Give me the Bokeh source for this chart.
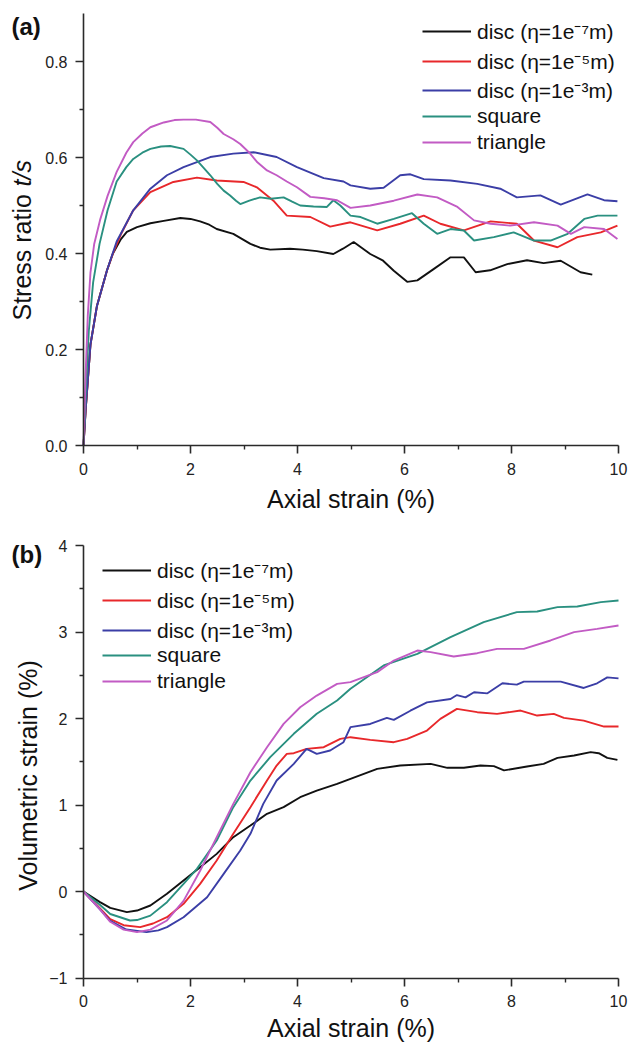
import math
from bokeh.plotting import figure
from bokeh.models import Range1d, FixedTicker, Legend, LegendItem, Label, PrintfTickFormatter
from bokeh.layouts import column
from bokeh.embed import file_html
from bokeh.resources import INLINE

FONT = "Liberation Sans"

series_names = ["disc (η=1e⁻⁷m)", "disc (η=1e⁻⁵m)", "disc (η=1e⁻³m)", "square", "triangle"]
series_colors = ["#111111", "#e8282b", "#3b3ea6", "#2a9080", "#c25bc4"]

x_ticks = [0, 2, 4, 6, 8, 10]
x_minor = [1, 3, 5, 7, 9]
ya_ticks = [0.0, 0.2, 0.4, 0.6, 0.8]
ya_minor = [0.1, 0.3, 0.5, 0.7]
yb_ticks = [-1, 0, 1, 2, 3, 4]
yb_minor = [-0.5, 0.5, 1.5, 2.5, 3.5]

# ---------------- panel (a): stress ratio ----------------
a_d7_x = [0, 0.04, 0.13, 0.25, 0.44, 0.55, 0.7, 0.81, 1.0, 1.25, 1.5, 1.81, 2.0, 2.18, 2.35, 2.49, 2.8, 3.12, 3.3, 3.49, 3.86, 4.1, 4.36, 4.67, 4.85, 5.05, 5.36, 5.6, 5.8, 6.05, 6.24, 6.55, 6.86, 7.11, 7.33, 7.6, 7.92, 8.29, 8.6, 8.92, 9.29, 9.51]
a_d7_y = [0, 0.073, 0.21, 0.29, 0.365, 0.4, 0.43, 0.445, 0.455, 0.463, 0.468, 0.474, 0.472, 0.467, 0.46, 0.451, 0.441, 0.42, 0.412, 0.408, 0.41, 0.408, 0.405, 0.399, 0.41, 0.424, 0.399, 0.385, 0.364, 0.341, 0.344, 0.368, 0.392, 0.392, 0.361, 0.365, 0.378, 0.386, 0.38, 0.385, 0.361, 0.356]

a_d5_x = [0, 0.04, 0.13, 0.25, 0.44, 0.55, 0.7, 0.93, 1.25, 1.68, 2.12, 2.49, 2.99, 3.24, 3.55, 3.8, 4.24, 4.61, 4.99, 5.49, 5.92, 6.36, 6.67, 7.11, 7.61, 8.1, 8.42, 8.86, 9.23, 9.67, 9.98]
a_d5_y = [0, 0.073, 0.21, 0.29, 0.365, 0.4, 0.44, 0.49, 0.528, 0.549, 0.558, 0.552, 0.549, 0.538, 0.51, 0.479, 0.476, 0.456, 0.465, 0.448, 0.462, 0.479, 0.462, 0.448, 0.467, 0.462, 0.427, 0.413, 0.434, 0.444, 0.458]

a_d3_x = [0, 0.04, 0.13, 0.25, 0.44, 0.62, 0.93, 1.25, 1.56, 1.87, 2.37, 2.8, 3.18, 3.61, 3.99, 4.49, 4.86, 4.99, 5.36, 5.61, 5.92, 6.11, 6.36, 6.86, 7.36, 7.79, 8.1, 8.54, 8.92, 9.42, 9.73, 9.98]
a_d3_y = [0, 0.075, 0.21, 0.29, 0.365, 0.425, 0.49, 0.535, 0.563, 0.58, 0.601, 0.608, 0.611, 0.601, 0.58, 0.557, 0.55, 0.542, 0.535, 0.537, 0.563, 0.565, 0.555, 0.552, 0.545, 0.535, 0.517, 0.521, 0.502, 0.523, 0.511, 0.509]

a_sq_x = [0, 0.05, 0.1, 0.18, 0.3, 0.45, 0.62, 0.8, 0.93, 1.1, 1.25, 1.45, 1.62, 1.87, 2.0, 2.12, 2.25, 2.37, 2.5, 2.62, 2.74, 2.85, 2.93, 3.1, 3.3, 3.5, 3.74, 3.9, 4.05, 4.3, 4.55, 4.67, 4.8, 4.99, 5.18, 5.49, 5.8, 6.14, 6.36, 6.61, 6.86, 7.11, 7.3, 7.67, 8.04, 8.42, 8.73, 9.05, 9.36, 9.61, 9.98]
a_sq_y = [0, 0.13, 0.24, 0.34, 0.42, 0.49, 0.55, 0.58, 0.597, 0.61, 0.618, 0.623, 0.624, 0.618, 0.606, 0.594, 0.578, 0.563, 0.545, 0.531, 0.521, 0.51, 0.503, 0.51, 0.517, 0.514, 0.517, 0.508, 0.5, 0.498, 0.497, 0.511, 0.5, 0.479, 0.476, 0.462, 0.472, 0.484, 0.462, 0.441, 0.451, 0.448, 0.427, 0.434, 0.444, 0.427, 0.427, 0.441, 0.472, 0.479, 0.479]

a_tr_x = [0, 0.04, 0.08, 0.13, 0.2, 0.31, 0.45, 0.62, 0.8, 0.93, 1.1, 1.25, 1.5, 1.7, 1.87, 2.1, 2.37, 2.5, 2.62, 2.8, 2.93, 3.1, 3.25, 3.43, 3.61, 3.8, 3.99, 4.24, 4.5, 4.74, 4.99, 5.36, 5.8, 6.24, 6.61, 6.99, 7.3, 7.61, 7.98, 8.42, 8.86, 9.11, 9.36, 9.73, 9.98]
a_tr_y = [0, 0.15, 0.27, 0.36, 0.42, 0.47, 0.52, 0.57, 0.61, 0.632, 0.65, 0.663, 0.673, 0.678, 0.679, 0.679, 0.674, 0.662, 0.649, 0.638, 0.628, 0.61, 0.59, 0.573, 0.563, 0.55, 0.538, 0.518, 0.515, 0.511, 0.495, 0.5, 0.51, 0.523, 0.517, 0.497, 0.469, 0.462, 0.458, 0.465, 0.458, 0.441, 0.455, 0.451, 0.43]

# ---------------- panel (b): volumetric strain ----------------
b_d7_x = [0, 0.3, 0.5, 0.81, 1.0, 1.25, 1.56, 1.87, 2.18, 2.49, 2.8, 3.12, 3.43, 3.74, 4.05, 4.36, 4.74, 4.99, 5.49, 5.92, 6.49, 6.8, 7.11, 7.42, 7.67, 7.86, 8.29, 8.6, 8.86, 9.17, 9.48, 9.63, 9.79, 9.98]
b_d7_y = [0, -0.12, -0.19, -0.239, -0.22, -0.162, -0.027, 0.127, 0.281, 0.435, 0.628, 0.763, 0.898, 0.975, 1.09, 1.167, 1.244, 1.303, 1.418, 1.457, 1.476, 1.43, 1.43, 1.457, 1.449, 1.4, 1.445, 1.476, 1.545, 1.572, 1.611, 1.599, 1.545, 1.522]

b_d5_x = [0, 0.3, 0.5, 0.75, 1.06, 1.3, 1.56, 1.87, 2.18, 2.49, 2.8, 3.12, 3.43, 3.61, 3.8, 3.93, 4.17, 4.49, 4.8, 4.99, 5.36, 5.8, 6.05, 6.42, 6.67, 6.98, 7.36, 7.73, 8.17, 8.48, 8.79, 8.98, 9.35, 9.73, 10.0]
b_d5_y = [0, -0.19, -0.32, -0.39, -0.412, -0.37, -0.297, -0.142, 0.088, 0.358, 0.667, 0.975, 1.283, 1.456, 1.591, 1.599, 1.649, 1.668, 1.764, 1.784, 1.753, 1.726, 1.765, 1.861, 1.996, 2.111, 2.073, 2.053, 2.092, 2.034, 2.053, 2.007, 1.976, 1.907, 1.907]

b_d3_x = [0, 0.3, 0.5, 0.8, 1.18, 1.4, 1.56, 1.87, 2.31, 2.62, 2.93, 3.12, 3.36, 3.61, 3.93, 4.17, 4.36, 4.61, 4.86, 4.99, 5.36, 5.67, 5.8, 6.11, 6.42, 6.86, 6.98, 7.14, 7.3, 7.55, 7.83, 8.1, 8.23, 8.92, 9.35, 9.6, 9.79, 10.0]
b_d3_y = [0, -0.2, -0.34, -0.44, -0.47, -0.45, -0.412, -0.297, -0.066, 0.204, 0.474, 0.667, 1.013, 1.283, 1.476, 1.649, 1.591, 1.63, 1.726, 1.9, 1.937, 2.007, 1.984, 2.09, 2.186, 2.225, 2.271, 2.244, 2.303, 2.291, 2.407, 2.391, 2.426, 2.426, 2.353, 2.407, 2.476, 2.464]

b_sq_x = [0, 0.3, 0.5, 0.87, 1.0, 1.25, 1.56, 1.87, 2.12, 2.49, 2.8, 3.12, 3.49, 3.93, 4.36, 4.74, 4.99, 5.61, 6.24, 6.86, 7.48, 8.1, 8.48, 8.86, 9.23, 9.67, 10.0]
b_sq_y = [0, -0.15, -0.26, -0.335, -0.33, -0.279, -0.123, 0.088, 0.262, 0.59, 0.975, 1.283, 1.553, 1.823, 2.054, 2.208, 2.343, 2.613, 2.748, 2.941, 3.115, 3.23, 3.237, 3.287, 3.295, 3.345, 3.364]

b_tr_x = [0, 0.3, 0.5, 0.75, 1.0, 1.25, 1.56, 1.87, 2.18, 2.49, 2.8, 3.12, 3.43, 3.74, 4.05, 4.36, 4.74, 4.99, 5.49, 5.8, 6.24, 6.49, 6.92, 7.36, 7.73, 8.23, 8.73, 9.17, 9.6, 10.0]
b_tr_y = [0, -0.2, -0.35, -0.44, -0.47, -0.44, -0.335, -0.108, 0.24, 0.628, 1.013, 1.379, 1.668, 1.938, 2.13, 2.265, 2.4, 2.42, 2.536, 2.67, 2.786, 2.767, 2.717, 2.755, 2.805, 2.805, 2.902, 2.998, 3.036, 3.075]

panel_a = [(a_d7_x, a_d7_y), (a_d5_x, a_d5_y), (a_d3_x, a_d3_y), (a_sq_x, a_sq_y), (a_tr_x, a_tr_y)]
panel_b = [(b_d7_x, b_d7_y), (b_d5_x, b_d5_y), (b_d3_x, b_d3_y), (b_sq_x, b_sq_y), (b_tr_x, b_tr_y)]

W = 628
X0_PX = 83          # pixel column of x = 0
X_SCALE = 53.5      # pixels per unit of axial strain


def make_panel(height, y0_px, y_scale, y_bounds, y_ticks, y_minor, data, leg_x, leg_rows,
               y_fmt=None):
    """The frame fills the whole figure; the axes are pinned at the lower-left corner of the data box."""
    xr = Range1d(-X0_PX / X_SCALE, (W - X0_PX) / X_SCALE)
    yr = Range1d(-(height - y0_px) / y_scale, y0_px / y_scale)
    p = figure(width=W, height=height, x_range=xr, y_range=yr,
               output_backend="svg", toolbar_location=None,
               min_border_left=0, min_border_right=0, min_border_top=0, min_border_bottom=0)
    p.outline_line_color = None
    p.grid.visible = False
    p.background_fill_color = "white"
    p.border_fill_color = "white"

    p.xaxis.ticker = FixedTicker(ticks=x_ticks, minor_ticks=x_minor)
    p.yaxis.ticker = FixedTicker(ticks=y_ticks, minor_ticks=y_minor)
    p.xaxis.fixed_location = y_bounds[0]
    p.yaxis.fixed_location = x_ticks[0]
    p.xaxis.bounds = (x_ticks[0], x_ticks[-1])
    p.yaxis.bounds = y_bounds
    if y_fmt is not None:
        p.yaxis.formatter = y_fmt
    for ax in (p.xaxis[0], p.yaxis[0]):
        ax.axis_line_color = "#2a2a2a"
        ax.axis_line_width = 1.6
        ax.major_tick_line_color = "#2a2a2a"
        ax.major_tick_line_width = 1.6
        ax.minor_tick_line_color = "#2a2a2a"
        ax.minor_tick_line_width = 1.4
        ax.major_tick_in = 0
        ax.major_tick_out = 8
        ax.minor_tick_in = 0
        ax.minor_tick_out = 4
        ax.major_label_text_font = FONT
        ax.major_label_text_font_size = "16px"
        ax.major_label_text_color = "#222222"
    p.xaxis.major_label_standoff = 9
    p.yaxis.major_label_standoff = 8

    for (xs, ys), name, col, row in zip(data, series_names, series_colors, leg_rows):
        r = p.line(xs, ys, line_color=col, line_width=1.9)
        leg = Legend(items=[LegendItem(label=name, renderers=[r])],
                     location=(leg_x, height - row - 16), orientation="vertical",
                     glyph_width=49, glyph_height=32, label_height=32, spacing=0,
                     padding=0, margin=0, label_standoff=6,
                     label_text_font=FONT, label_text_font_size="21px",
                     label_text_color="#111111",
                     border_line_color=None, background_fill_alpha=0)
        p.add_layout(leg)
    return p


def px_to_x(px):
    return (px - X0_PX) / X_SCALE


# ---------------- figure (a) ----------------
A_H, A_Y0, A_S = 520, 445, 480.0
pa = make_panel(A_H, A_Y0, A_S, (0, 0.9), ya_ticks, ya_minor, panel_a, 422,
                [31, 61, 90, 116, 142], y_fmt=PrintfTickFormatter(format="%.1f"))


def ya(py):
    return (A_Y0 - py) / A_S


pa.add_layout(Label(x=px_to_x(11), y=ya(26), text="(a)", text_font=FONT, text_font_size="24px",
                    text_font_style="bold", text_baseline="middle", text_align="left",
                    text_color="#111111"))
pa.add_layout(Label(x=5, y=ya(498), text="Axial strain (%)", text_font=FONT,
                    text_font_size="25px", text_baseline="middle", text_align="center",
                    text_color="#111111"))
pa.add_layout(Label(x=px_to_x(21), y=ya(320), text="Stress ratio ", angle=math.pi / 2,
                    text_font=FONT, text_font_size="25px", text_baseline="middle",
                    text_align="left", text_color="#111111"))
pa.add_layout(Label(x=px_to_x(21), y=ya(186), text="t/s", angle=math.pi / 2,
                    text_font=FONT, text_font_size="25px", text_font_style="italic",
                    text_baseline="middle", text_align="left", text_color="#111111"))

# ---------------- figure (b) ----------------
B_H, B_Y0, B_S = 524, 371, 86.5
pb = make_panel(B_H, B_Y0, B_S, (-1, 4), yb_ticks, yb_minor, panel_b, 102,
                [50, 80, 110, 135, 161])


def yb(py):
    return (B_Y0 - py) / B_S


pb.add_layout(Label(x=px_to_x(11), y=yb(34), text="(b)", text_font=FONT, text_font_size="24px",
                    text_font_style="bold", text_baseline="middle", text_align="left",
                    text_color="#111111"))
pb.add_layout(Label(x=5, y=yb(507), text="Axial strain (%)", text_font=FONT,
                    text_font_size="25px", text_baseline="middle", text_align="center",
                    text_color="#111111"))
pb.add_layout(Label(x=px_to_x(27), y=yb(255), text="Volumetric strain (%)", angle=math.pi / 2,
                    text_font=FONT, text_font_size="25px", text_baseline="middle",
                    text_align="center", text_color="#111111"))

layout = column(pa, pb, spacing=0)
open("out.html", "w").write(file_html(layout, INLINE))
